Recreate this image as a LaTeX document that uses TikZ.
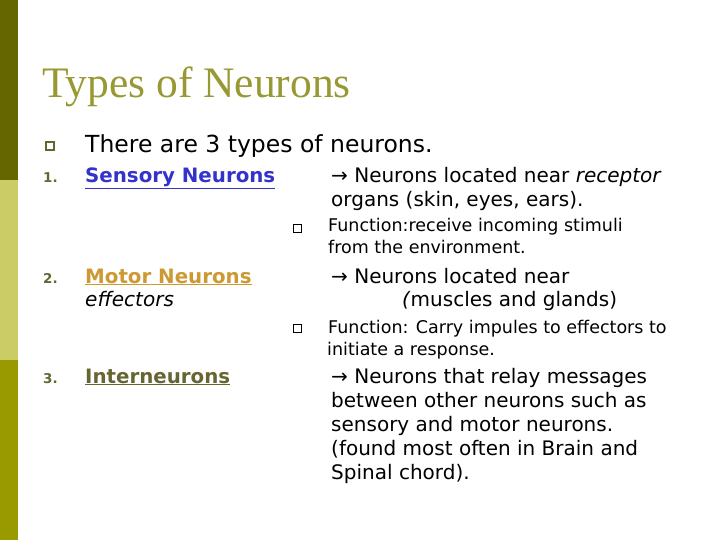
\documentclass[tikz,border=0pt]{standalone}
\usepackage{fontspec}
\setmainfont{DejaVu Sans}
\newfontfamily\titlefont{Liberation Serif}
\definecolor{barA}{HTML}{666600}
\definecolor{barB}{HTML}{CCCC66}
\definecolor{barC}{HTML}{999900}
\definecolor{titleC}{HTML}{999933}
\definecolor{blueC}{HTML}{3333CC}
\definecolor{goldC}{HTML}{CC9933}
\definecolor{numC}{HTML}{666633}
\tikzset{
 txt/.style={anchor=base west,inner sep=0pt,font=\fontsize{20}{22}\selectfont},
 small/.style={anchor=base west,inner sep=0pt,font=\fontsize{17.5}{19}\selectfont},
 num/.style={anchor=base west,inner sep=0pt,text=numC,font=\bfseries\fontsize{13.5}{14}\selectfont},
 sq/.style={draw=numC,line width=2pt,minimum size=8pt,inner sep=0pt},
 sqs/.style={draw=black,line width=0.7pt,minimum size=8pt,inner sep=0pt}
}
\begin{document}
\begin{tikzpicture}[x=1pt,y=-1pt]
\useasboundingbox (0,0) rectangle (720,540);
\fill[white] (0,0) rectangle (720,540);
\fill[barA] (0,0) rectangle (18,180);
\fill[barB] (0,180) rectangle (18,360);
\fill[barC] (0,360) rectangle (18,540);
\node[anchor=base west,inner sep=0pt,text=titleC,font=\titlefont\fontsize{43.5}{46}\selectfont] (title) at (42,98) {Types of Neurons};
\node[sq] (b0) at (50,146) {};
\node[txt,font=\fontsize{23.5}{26}\selectfont] (l0) at (85,153) {There are 3 types of neurons.};
\node[num] (n1) at (43,183) {1.};
\node[txt,text=blueC,font=\bfseries\fontsize{19.8}{22}\selectfont] (s1) at (85,183) {\underline{Sensory Neurons}};
\node[txt] (r1) at (331,183) {→ Neurons located near \textit{receptor}};
\node[txt] (r1b) at (331,207) {organs (skin, eyes, ears).};
\node[sqs] (b1) at (297,228) {};
\node[small] (f1) at (328,232) {Function:receive incoming stimuli};
\node[small] (f1b) at (328,254) {from the environment.};
\node[num] (n2) at (43,283) {2.};
\node[txt,text=goldC,font=\bfseries\fontsize{19.8}{22}\selectfont] (s2) at (85,283) {\underline{Motor Neurons}};
\node[txt] (s2b) at (85,306) {\textit{effectors}};
\node[txt] (r2) at (331,283) {→ Neurons located near};
\node[txt] (r2b) at (402,306) {\textit{(}muscles and glands)};
\node[sqs] (b2) at (297,328) {};
\node[small] (f2) at (328,333) {Function: Carry impules to effectors to};
\node[small] (f2b) at (327,355) {initiate a response.};
\node[num] (n3) at (43,383) {3.};
\node[txt,text=numC,font=\bfseries\fontsize{19.8}{22}\selectfont] (s3) at (85,383) {\underline{Interneurons}};
\node[txt] (r3) at (331,383) {→ Neurons that relay messages};
\node[txt] (r3b) at (331,407) {between other neurons such as};
\node[txt] (r3c) at (331,431) {sensory and motor neurons.};
\node[txt] (r3d) at (331,455) {(found most often in Brain and};
\node[txt] (r3e) at (331,479) {Spinal chord).};
\end{tikzpicture}
\end{document}
